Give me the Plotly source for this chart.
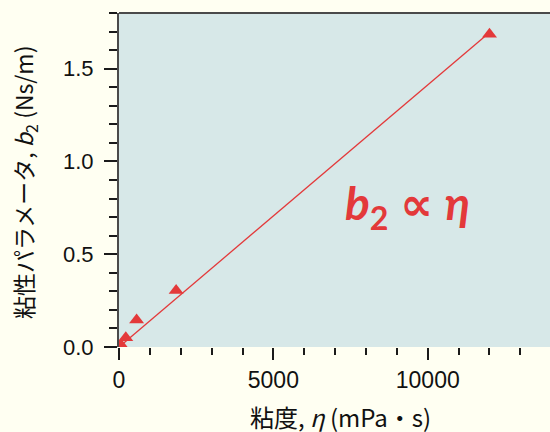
import numpy as np
import plotly.graph_objects as go

# Data
viscosity = [60, 220, 570, 1850, 12000]          # mPa·s
b2 = [0.012, 0.05, 0.145, 0.305, 1.685]           # Ns/m

x_ticks = [0, 5000, 10000]
x_tick_text = ["0", "5000", "10000"]
y_ticks = [0.0, 0.5, 1.0, 1.5]
y_tick_text = ["0.0", "0.5", "1.0", "1.5"]

# proportional fit b2 = k * eta
xa = np.array(viscosity, dtype=float)
ya = np.array(b2, dtype=float)
k = float((xa * ya).sum() / (xa * xa).sum())
fit_x = [xa.min(), xa.max()]
fit_y = [k * v for v in fit_x]

RED = "#e3393a"
PLOT_BG = "#d7e8e8"
PAPER_BG = "#fffff2"
AXIS = "#4a4a4a"
TICK = "#1a1a1a"
JP = "Noto Sans CJK JP"

fig = go.Figure()
fig.add_trace(go.Scatter(x=fit_x, y=fit_y, mode="lines",
                         line=dict(color=RED, width=1.3), showlegend=False,
                         hoverinfo="skip"))
fig.add_trace(go.Scatter(x=viscosity, y=b2, mode="markers",
                         marker=dict(symbol="triangle-up", size=13, color=RED),
                         showlegend=False))

fig.update_layout(
    width=550, height=432,
    margin=dict(l=119, r=0, t=13, b=85, autoexpand=False),
    paper_bgcolor=PAPER_BG, plot_bgcolor=PLOT_BG,
    xaxis=dict(range=[0, 13960], tickvals=x_ticks, ticktext=x_tick_text,
               ticks="outside", automargin=False,
               ticklen=12, tickwidth=2, tickcolor=TICK, showgrid=False,
               zeroline=False, showline=False,
               tickfont=dict(family="Liberation Sans, Arial", size=23, color="#111"),
               minor=dict(dtick=1000, tick0=0, ticks="outside", ticklen=7,
                          tickwidth=2, tickcolor=TICK, showgrid=False)),
    yaxis=dict(range=[0, 1.8], tickvals=y_ticks, ticktext=y_tick_text,
               ticks="outside", ticklen=13, tickwidth=2, tickcolor=TICK,
               automargin=False, ticklabelstandoff=6,
               showgrid=False, zeroline=False, showline=True, linecolor=AXIS,
               linewidth=2,
               tickfont=dict(family="Liberation Sans, Arial", size=22, color="#111"),
               minor=dict(dtick=0.1, tick0=0, ticks="outside", ticklen=8,
                          tickwidth=2, tickcolor=TICK, showgrid=False)),
    shapes=[dict(type="line", xref="paper", yref="paper", x0=0, x1=1, y0=1, y1=1,
                 line=dict(color=AXIS, width=2))],
    annotations=[
        dict(text="粘性パラメータ, <i>b</i><sub>2</sub> (Ns/m)", textangle=-90,
             xref="paper", yref="paper", x=(24 - 119) / 431, xanchor="center",
             y=(347 - 183) / 334, yanchor="middle", showarrow=False,
             font=dict(family=JP, size=23, color="#111")),
        dict(text="粘度, <i>η</i> (mPa・s)",
             xref="paper", yref="paper", x=(340 - 119) / 431, xanchor="center",
             y=-(416 - 347) / 334, yanchor="middle", showarrow=False,
             font=dict(family=JP, size=24, color="#111")),
        dict(text="<b><i>b</i></b><b><sub>2</sub></b> "
                  "<span style=\"font-family:'DejaVu Sans'\"><b>∝</b></span> "
                  "<b><i>η</i></b>",
             xref="x", yref="y", x=9330, y=0.76, xanchor="center", yanchor="middle",
             showarrow=False,
             font=dict(family="Lato, Open Sans", size=46, color=RED)),
    ],
)

fig.write_html("out.html", config={"displayModeBar": False},
               post_script="document.body.style.margin='0';document.body.style.overflow='hidden';")
